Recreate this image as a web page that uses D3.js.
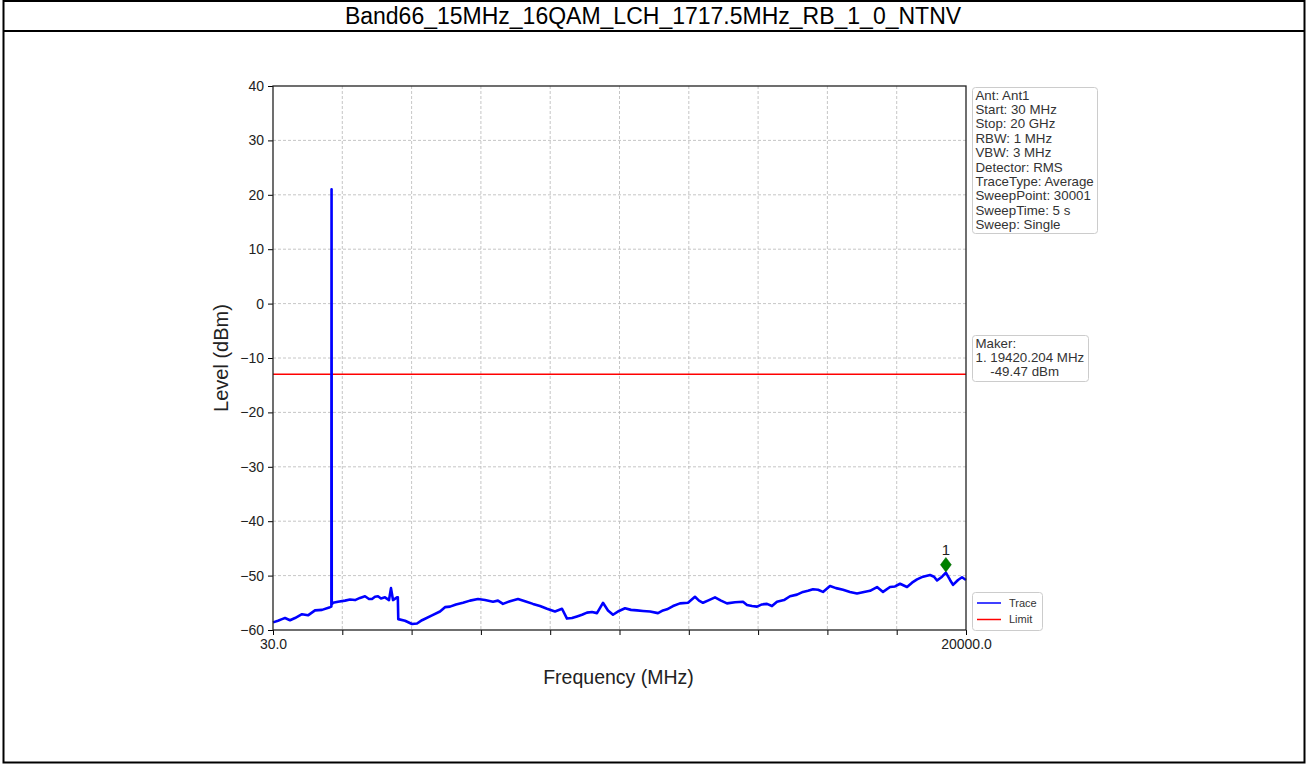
<!DOCTYPE html>
<html><head><meta charset="utf-8">
<script src="https://cdn.jsdelivr.net/npm/d3@7"></script>
<style>
html,body{margin:0;padding:0;background:#fff;}
svg{display:block;font-family:"Liberation Sans",Arial,sans-serif;}
</style></head><body>
<svg id="c" width="1307" height="765"></svg>
<script>
const titleText = "Band66_15MHz_16QAM_LCH_1717.5MHz_RB_1_0_NTNV";
const xDomain = [30, 20000];
const yDomain = [-60, 40];
const yTicks = [-60, -50, -40, -30, -20, -10, 0, 10, 20, 30, 40];
const xTickCount = 10;
const xTickLabels = ["30.0", "20000.0"];
const limitLevel = -13;
const traceFreq = [30,174,289,376,520,664,866,1039,1240,1442,1673,1712,1717.5,1723,1759,1903,2105,2249,2393,2537,2681,2796,2883,2969,3056,3142,3257,3373,3430,3488,3603,3627,3640,3834,4036,4180,4324,4612,4842,4986,5131,5303,5505,5707,5937,6139,6369,6513,6657,6859,7090,7292,7522,7724,7926,8156,8358,8502,8646,8790,8934,9078,9222,9366,9539,9683,9828,10001,10174,10346,10519,10692,10894,11124,11268,11384,11557,11758,11989,12190,12306,12421,12594,12767,12940,13113,13343,13574,13689,13833,13977,14121,14265,14409,14553,14755,14928,15130,15303,15447,15591,15735,15879,16081,16254,16456,16657,16859,17061,17234,17436,17609,17810,17955,18099,18301,18445,18589,18762,18964,19079,19165,19310,19420,19540,19626,19770,19885,20000];
const traceLevel = [-58.6,-58.3,-58.0,-57.8,-58.2,-57.8,-57.1,-57.3,-56.4,-56.3,-55.8,-55.7,21.0,-55.3,-55.0,-54.8,-54.6,-54.4,-54.5,-54.1,-53.8,-54.3,-54.3,-53.9,-53.8,-54.2,-54.0,-54.5,-52.3,-54.5,-54.0,-54.0,-58.0,-58.3,-58.9,-58.8,-58.2,-57.3,-56.6,-55.8,-55.7,-55.3,-55.0,-54.6,-54.3,-54.5,-54.8,-54.6,-55.2,-54.7,-54.3,-54.7,-55.2,-55.6,-56.1,-56.6,-56.1,-57.9,-57.8,-57.5,-57.2,-56.8,-56.7,-56.9,-55.0,-56.4,-57.2,-56.5,-56.0,-56.3,-56.4,-56.5,-56.6,-56.9,-56.4,-56.2,-55.6,-55.1,-55.0,-53.9,-54.6,-55.0,-54.5,-54.0,-54.6,-55.1,-54.9,-54.8,-55.4,-55.6,-55.7,-55.3,-55.2,-55.6,-54.8,-54.5,-53.8,-53.5,-53.0,-52.8,-52.5,-52.6,-53.0,-51.9,-52.3,-52.6,-53.0,-53.3,-53.0,-52.8,-52.1,-53.0,-52.1,-52.0,-51.5,-52.1,-51.3,-50.7,-50.2,-49.9,-50.2,-50.9,-50.2,-49.47,-50.8,-51.7,-50.8,-50.3,-50.8];
const markerFreq = 19420.204;
const markerLevel = -49.47;
const markerLabel = "1";
const infoLines = ["Ant: Ant1","Start: 30 MHz","Stop: 20 GHz","RBW: 1 MHz","VBW: 3 MHz","Detector: RMS","TraceType: Average","SweepPoint: 30001","SweepTime: 5 s","Sweep: Single"];
const makerLines = ["Maker:","1. 19420.204 MHz","    -49.47 dBm"];
const legendNames = ["Trace","Limit"];
const legendColors = ["#0000ff","#ff0000"];

const svg = d3.select("#c");
// outer frame and title row
svg.append("rect").attr("x",3.5).attr("y",1).attr("width",1301).attr("height",761.5)
  .attr("fill","none").attr("stroke","#000").attr("stroke-width",2);
svg.append("line").attr("x1",3).attr("x2",1305).attr("y1",31).attr("y2",31)
  .attr("stroke","#000").attr("stroke-width",2);
svg.append("text").attr("x",653).attr("y",24).attr("text-anchor","middle")
  .attr("font-size",23).attr("fill","#000").text(titleText);

const L=273, R=966, T=86, B=630;
const x = d3.scaleLinear().domain(xDomain).range([L,R]);
const y = d3.scaleLinear().domain(yDomain).range([B,T]);
const xTicks = d3.range(xTickCount+1).map(i => xDomain[0] + i*(xDomain[1]-xDomain[0])/xTickCount);

const g = svg.append("g");
// grid
g.selectAll(".gx").data(xTicks.slice(1,-1)).join("line")
  .attr("x1",d=>x(d)).attr("x2",d=>x(d)).attr("y1",T).attr("y2",B)
  .attr("stroke","#b8b8b8").attr("stroke-width",0.8).attr("stroke-dasharray","3,2");
g.selectAll(".gy").data(yTicks.slice(1,-1)).join("line")
  .attr("x1",L).attr("x2",R).attr("y1",d=>y(d)).attr("y2",d=>y(d))
  .attr("stroke","#b8b8b8").attr("stroke-width",0.8).attr("stroke-dasharray","3,2");

// limit
g.append("line").attr("x1",x(xDomain[0])).attr("x2",x(xDomain[1]))
  .attr("y1",y(limitLevel)).attr("y2",y(limitLevel)).attr("stroke","#ff0000").attr("stroke-width",1.4);

// trace
const pts = traceFreq.map((f,i)=>[f,traceLevel[i]]);
g.append("path").datum(pts)
  .attr("d", d3.line().x(d=>x(d[0])).y(d=>y(d[1])))
  .attr("fill","none").attr("stroke","#0000ff").attr("stroke-width",2.6).attr("stroke-linejoin","round");

// axes
const xAxis = d3.axisBottom(x).tickValues(xTicks).tickSize(5).tickPadding(4)
  .tickFormat((d,i)=> i===0 ? xTickLabels[0] : (i===xTicks.length-1 ? xTickLabels[1] : ""));
const ax = svg.append("g").attr("transform",`translate(0,${B})`).call(xAxis);
const yAxis = d3.axisLeft(y).tickValues(yTicks).tickSize(5).tickPadding(4);
const ay = svg.append("g").attr("transform",`translate(${L},0)`).call(yAxis);
[ax,ay].forEach(a=>{
  a.select(".domain").remove();
  a.selectAll(".tick line").attr("stroke","#000").attr("stroke-width",1);
  a.selectAll("text").attr("font-size",14).attr("fill","#222").attr("font-family","'Liberation Sans',Arial,sans-serif");
});
svg.append("rect").attr("x",L).attr("y",T).attr("width",R-L).attr("height",B-T)
  .attr("fill","none").attr("stroke","#222").attr("stroke-width",1.3);

// axis titles
svg.append("text").attr("x",(L+R)/2 - 1).attr("y",684).attr("text-anchor","middle")
  .attr("font-size",19.5).attr("fill","#222").text("Frequency (MHz)");
svg.append("text").attr("transform",`translate(228,${(T+B)/2}) rotate(-90)`).attr("text-anchor","middle")
  .attr("font-size",20).attr("fill","#222").text("Level (dBm)");

// marker
const mx = x(markerFreq), my = y(markerLevel) - 8;
svg.append("path").attr("d", d3.symbol(d3.symbolDiamond, 60)())
  .attr("transform",`translate(${mx},${my}) scale(1.3,1)`).attr("fill","#008000").attr("stroke","#006400").attr("stroke-width",0.5);
svg.append("text").attr("x",mx).attr("y",my-9.5).attr("text-anchor","middle")
  .attr("font-size",15).attr("fill","#222").text(markerLabel);

// info box
function textBox(x0,y0,w,h,lines,fs,lh){
  svg.append("rect").attr("x",x0).attr("y",y0).attr("width",w).attr("height",h).attr("rx",3)
    .attr("fill","#fff").attr("stroke","#cccccc").attr("stroke-width",1);
  lines.forEach((t,i)=>svg.append("text").attr("x",x0+3).attr("y",y0+12+i*lh)
    .attr("font-size",fs).attr("fill","#333").attr("xml:space","preserve").style("white-space","pre").text(t));
}
textBox(972.5,87.5,125,146,infoLines,13.3,14.4);
textBox(972.5,335.5,116,46,makerLines,13.3,14.3);

// legend
const lg = svg.append("g");
lg.append("rect").attr("x",972.5).attr("y",592.5).attr("width",70).attr("height",38).attr("rx",3)
  .attr("fill","#fff").attr("stroke","#cccccc");
legendNames.forEach((n,i)=>{
  lg.append("line").attr("x1",977).attr("x2",1001).attr("y1",603+i*16.5).attr("y2",603+i*16.5)
    .attr("stroke",legendColors[i]).attr("stroke-width",1.5);
  lg.append("text").attr("x",1009).attr("y",606.5+i*16.5).attr("font-size",11).attr("fill","#333").text(n);
});
</script></body></html>
